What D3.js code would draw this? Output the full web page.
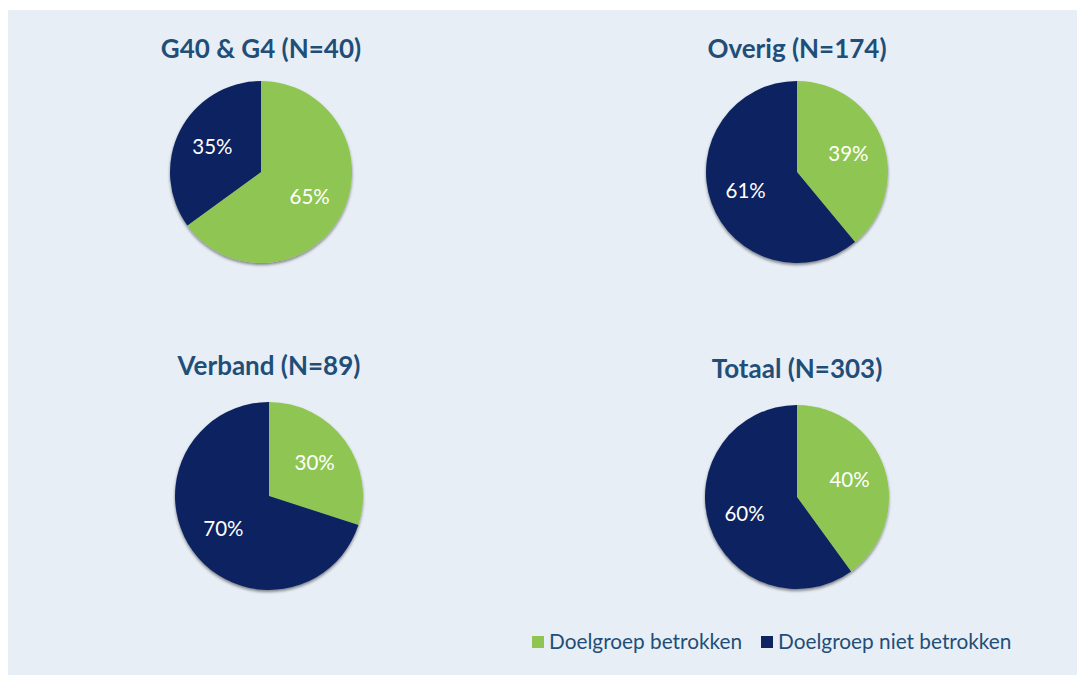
<!DOCTYPE html>
<html>
<head>
<meta charset="utf-8">
<script src="https://cdn.jsdelivr.net/npm/d3@7"></script>
<style>
  body { margin: 0; background: #fff; }
  svg { display: block; font-family: Lato, "Open Sans", sans-serif; }
</style>
</head>
<body>
<svg id="chart" width="1078" height="675"></svg>
<script>
const categories = ['Doelgroep betrokken', 'Doelgroep niet betrokken'];
const groups = ['G40 & G4 (N=40)', 'Overig (N=174)', 'Verband (N=89)', 'Totaal (N=303)'];
const betrokken = [65, 39, 30, 40];
const nietBetrokken = [35, 61, 70, 60];

const colors = ['#8FC652', '#0E2460'];
const width = 1078, height = 675;

const svg = d3.select('#chart');

const defs = svg.append('defs');
const shadow = defs.append('filter').attr('id', 'shadow')
    .attr('x', '-20%').attr('y', '-20%').attr('width', '140%').attr('height', '140%');
shadow.append('feDropShadow')
    .attr('dx', 0).attr('dy', 2).attr('stdDeviation', 1.5)
    .attr('flood-color', '#000').attr('flood-opacity', 0.45);

svg.append('rect')
    .attr('x', 8).attr('y', 10)
    .attr('width', 1069).attr('height', 665)
    .attr('fill', '#E8EEF6');

// panel layout: centres and radius of each pie
const layout = [
    { cx: 261, cy: 172, r: 91, ty: 58 },
    { cx: 797, cy: 172, r: 91, ty: 58 },
    { cx: 269, cy: 496, r: 94, ty: 375 },
    { cx: 797, cy: 497, r: 92, ty: 378 }
];

const pie = d3.pie().sort(null).value(d => d);

groups.forEach((g, i) => {
    const pos = layout[i];
    const values = [betrokken[i], nietBetrokken[i]];
    const arc = d3.arc().innerRadius(0).outerRadius(pos.r);
    const labelArc = d3.arc().innerRadius(pos.r * 0.6).outerRadius(pos.r * 0.6);

    svg.append('text')
        .attr('x', pos.cx).attr('y', pos.ty)
        .attr('text-anchor', 'middle')
        .attr('font-size', 26).attr('font-weight', 'bold')
        .attr('fill', '#1F4E79')
        .text(g);

    const node = svg.append('g')
        .attr('transform', `translate(${pos.cx}, ${pos.cy})`);

    const slices = pie(values);

    node.append('g').attr('filter', 'url(#shadow)')
        .selectAll('path')
        .data(slices)
        .enter().append('path')
        .attr('d', arc)
        .attr('fill', (d, j) => colors[j]);

    node.selectAll('text')
        .data(slices)
        .enter().append('text')
        .attr('transform', d => `translate(${labelArc.centroid(d)})`)
        .attr('text-anchor', 'middle')
        .attr('dy', '0.35em')
        .attr('font-size', 20.5)
        .attr('fill', '#fff')
        .text(d => d.data + '%');
});

// legend
const legend = svg.append('g');
const legendX = [532, 761];
categories.forEach((c, j) => {
    legend.append('rect')
        .attr('x', legendX[j]).attr('y', 636)
        .attr('width', 12).attr('height', 12)
        .attr('fill', colors[j]);
    legend.append('text')
        .attr('x', legendX[j] + 17).attr('y', 649)
        .attr('font-size', 20.8)
        .attr('fill', '#1F4E79')
        .text(c);
});
</script>
</body>
</html>
